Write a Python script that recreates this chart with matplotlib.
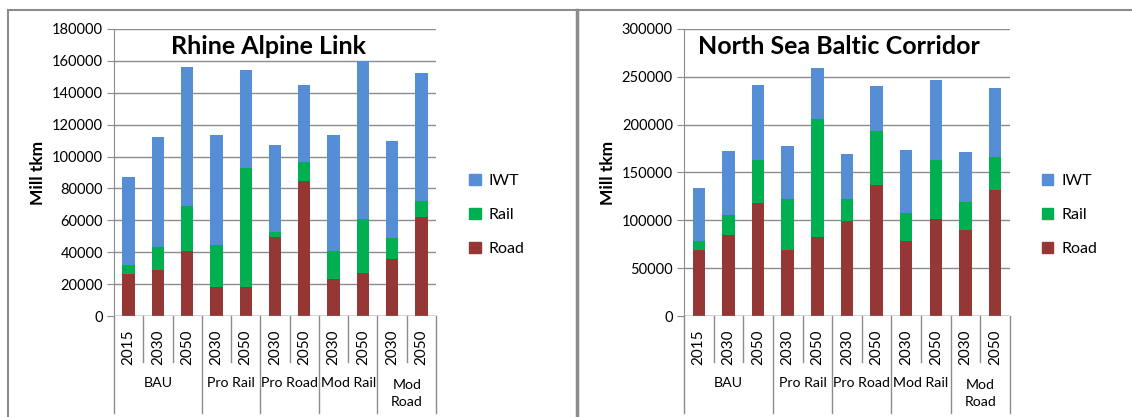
import matplotlib
matplotlib.use('Agg')
import matplotlib.pyplot as plt
from matplotlib.lines import Line2D
from matplotlib.patches import Patch
import numpy as np

plt.rcParams['font.family'] = ['Lato', 'DejaVu Sans']

years = ['2015', '2030', '2050', '2030', '2050', '2030', '2050', '2030', '2050', '2030', '2050']
groups = ['BAU', 'Pro Rail', 'Pro Road', 'Mod Rail', 'Mod\nRoad']
group_sizes = [3, 2, 2, 2, 2]

# Rhine Alpine Link (stack tops)
ral_road = [26300, 29100, 40600, 18200, 18200, 49300, 84500, 23200, 27000, 35800, 62300]
ral_rail_top = [31800, 43300, 69000, 44300, 93000, 52700, 96800, 41000, 60600, 48700, 72300]
ral_total = [87000, 112300, 156000, 113700, 154300, 107300, 145100, 113700, 159700, 110000, 152400]

# North Sea Baltic Corridor
nsb_road = [69000, 84700, 118500, 69000, 82900, 99300, 137300, 78400, 101700, 90200, 132000]
nsb_rail_top = [78400, 105200, 162700, 122000, 205600, 122000, 193700, 107300, 162700, 119500, 166600]
nsb_total = [133400, 172800, 241800, 177400, 259200, 169300, 240400, 173900, 246700, 171800, 238300]

c_iwt = '#558ED5'
c_rail = '#00B050'
c_road = '#953735'
grey = '#8C8C8C'

fig = plt.figure(figsize=(11.32, 4.17), dpi=100)


def draw_panel(rect, title, title_x, road, rail_top, total, ymax, step, leg_x):
    ax = fig.add_axes(rect)
    x = np.arange(len(years))
    road = np.array(road)
    rail = np.array(rail_top) - road
    iwt = np.array(total) - np.array(rail_top)
    ax.bar(x, road, width=0.42, color=c_road, zorder=3)
    ax.bar(x, rail, width=0.42, bottom=road, color=c_rail, zorder=3)
    ax.bar(x, iwt, width=0.42, bottom=road + rail, color=c_iwt, zorder=3)
    ax.set_xlim(-0.5, len(years) - 0.5)
    ax.set_ylim(0, ymax)
    ax.set_yticks(np.arange(0, ymax + 1, step))
    ax.yaxis.grid(True, color=grey, linewidth=1, zorder=0)
    ax.tick_params(axis='y', length=5, color=grey, labelsize=10.5, pad=3)
    for s in ['top', 'right', 'bottom']:
        ax.spines[s].set_visible(False)
    ax.spines['left'].set_color(grey)
    ax.axhline(0, color=grey, linewidth=1, zorder=4)
    ax.set_xticks(x)
    ax.set_xticklabels(years, rotation=90, fontsize=11)
    ax.tick_params(axis='x', length=0, pad=10)
    ax.set_ylabel('Mill tkm', fontsize=12.5, fontweight='bold', labelpad=4)
    ax.text(title_x, 0.94, title, transform=ax.transAxes, ha='center', va='center',
            fontsize=18, fontweight='bold')
    # category axis lines
    trans = ax.get_xaxis_transform()
    bounds = np.cumsum([0] + group_sizes) - 0.5
    for b in np.arange(-0.5, len(years)):
        low = -0.338 if np.any(np.isclose(bounds, b)) else -0.16
        ax.add_line(Line2D([b, b], [0, low], transform=trans, color=grey,
                           linewidth=1, clip_on=False))
    for i, g in enumerate(groups):
        center = (bounds[i] + bounds[i + 1]) / 2
        yy = -0.235 if '\n' not in g else -0.27
        ax.text(center, yy, g, transform=trans, ha='center', va='center',
                fontsize=10.2, linespacing=1.5)
    handles = [Patch(color=c_iwt), Patch(color=c_rail), Patch(color=c_road)]
    fig.legend(handles, ['IWT', 'Rail', 'Road'], loc='center left',
               bbox_to_anchor=(leg_x, 0.484), frameon=False, fontsize=11.5,
               handlelength=0.7, handleheight=0.7, handletextpad=0.5,
               labelspacing=1.25)
    return ax


draw_panel([0.1007, 0.2422, 0.2845, 0.6883], 'Rhine Alpine Link', 0.48,
           ral_road, ral_rail_top, ral_total, 180000, 20000, 0.402)
draw_panel([0.6042, 0.2422, 0.288, 0.6883], 'North Sea Baltic Corridor', 0.475,
           nsb_road, nsb_rail_top, nsb_total, 300000, 50000, 0.908)

# outer frame lines
fig.add_artist(Line2D([8 / 1132, 1], [1 - 10 / 417, 1 - 10 / 417], color=grey, linewidth=1.5))
fig.add_artist(Line2D([8 / 1132, 8 / 1132], [0, 1 - 10 / 417], color=grey, linewidth=1.5))
fig.add_artist(Line2D([577 / 1132, 577 / 1132], [0, 1 - 10 / 417], color=grey, linewidth=2.5))

fig.savefig('out.png', dpi=100)
